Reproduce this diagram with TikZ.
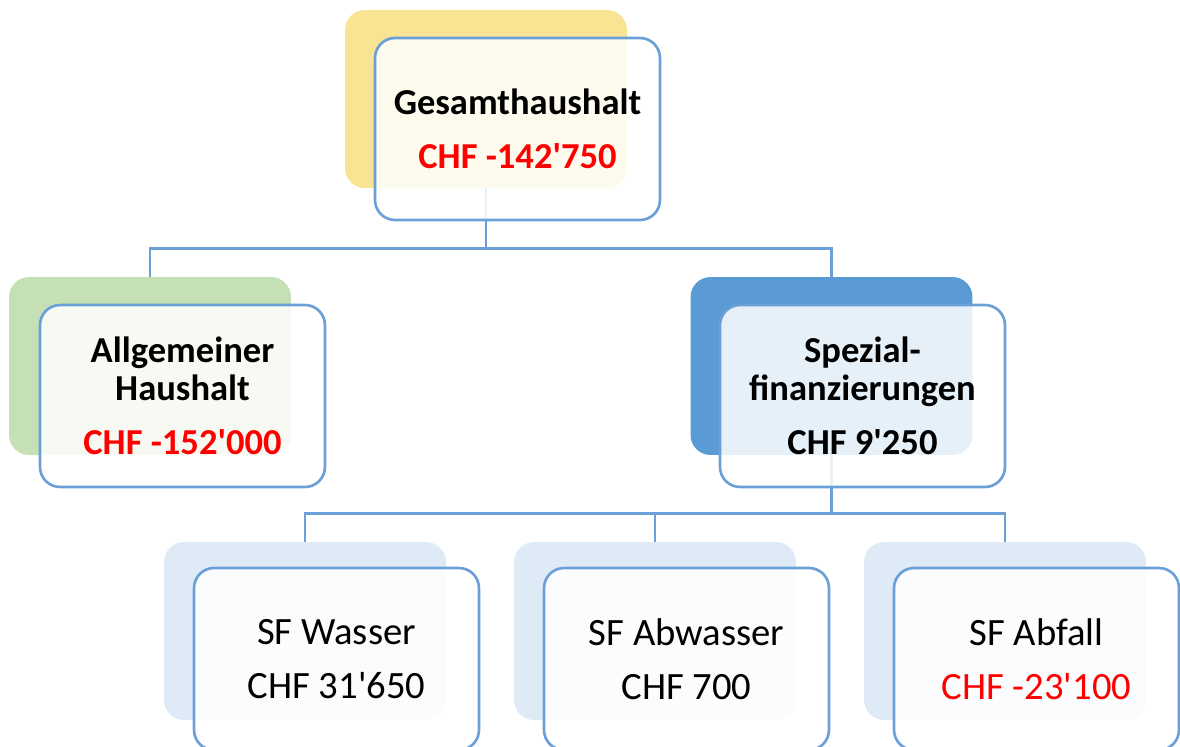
\documentclass[tikz,border=0pt]{standalone}
\usepackage{fontspec}
\setmainfont{Carlito}
\usetikzlibrary{positioning}

\definecolor{giallo}{HTML}{F8E493}
\definecolor{verde}{HTML}{C5E0B4}
\definecolor{blu}{HTML}{5B9BD5}
\definecolor{celeste}{HTML}{DEEBF7}
\definecolor{bordo}{HTML}{6A9FD8}
\definecolor{rosso}{HTML}{FF0000}

\newcommand{\apice}{\textquotesingle}

\begin{document}
\begin{tikzpicture}[
  x=0.02cm, y=-0.02cm,
  font=\fontsize{20.8}{21.5}\selectfont,
  sfondo/.style={rounded corners=0.4cm, minimum width=5.64cm,
                 minimum height=3.56cm, inner sep=0pt},
  riquadro/.style={draw=bordo, line width=1.5pt, fill=white, fill opacity=0.85,
                   text opacity=1, rounded corners=0.4cm, minimum width=5.7cm,
                   minimum height=3.64cm, align=center, inner sep=0pt},
  foglia/.style={riquadro, font=\fontsize{22}{22}\selectfont},
  collegamento/.style={draw=bordo, line width=1.5pt}
]

% cornice dell'immagine, fissa come nell'originale
\fill[white] (0,0) rectangle (1180,747);
\useasboundingbox (0,0) rectangle (1180,747);
\clip (0,0) rectangle (1180,747);

% ---- campiture dietro i riquadri -----------------------------------
\node[sfondo, fill=giallo]  (gesamtS)  at (486,99)    {};
\node[sfondo, fill=verde]   (allgS)    at (150,366)   {};
\node[sfondo, fill=blu]     (spezS)    at (831.5,366) {};
\node[sfondo, fill=celeste] (wasserS)  at (305,631)   {};
\node[sfondo, fill=celeste] (abwasS)   at (655,631)   {};
\node[sfondo, fill=celeste] (abfallS)  at (1005,631)  {};

% ---- collegamenti --------------------------------------------------
\draw[collegamento] (gesamtS.south) -- ++(0,60) -| (allgS.north);
\draw[collegamento] (gesamtS.south) -- ++(0,60) -| (spezS.north);
\draw[collegamento] (spezS.south) -- ++(0,58) -| (wasserS.north);
\draw[collegamento] (spezS.south) -- ++(0,58) -| (abwasS.north);
\draw[collegamento] (spezS.south) -- ++(0,58) -| (abfallS.north);

% ---- riquadri ------------------------------------------------------
\node[riquadro] (gesamt) at (517.5,129)
  {\bfseries Gesamthaushalt\\[9.5pt] \bfseries\color{rosso}CHF -142\apice750};
\node[riquadro] (allg) at (182.5,396)
  {\bfseries Allgemeiner\\ \bfseries Haushalt\\[9.5pt] \bfseries\color{rosso}CHF -152\apice000};
\node[riquadro] (spez) at (862.5,396)
  {\bfseries Spezial-\\ \bfseries finanzierungen\\[9.5pt] \bfseries CHF 9\apice250};
\node[foglia] (wasser) at (336.5,659)
  {SF Wasser\\[9pt] CHF 31\apice650};
\node[foglia] (abwas) at (686.5,659)
  {SF Abwasser\\[9pt] CHF 700};
\node[foglia] (abfall) at (1036.5,659)
  {SF Abfall\\[9pt] \color{rosso}CHF -23\apice100};

\end{tikzpicture}
\end{document}
